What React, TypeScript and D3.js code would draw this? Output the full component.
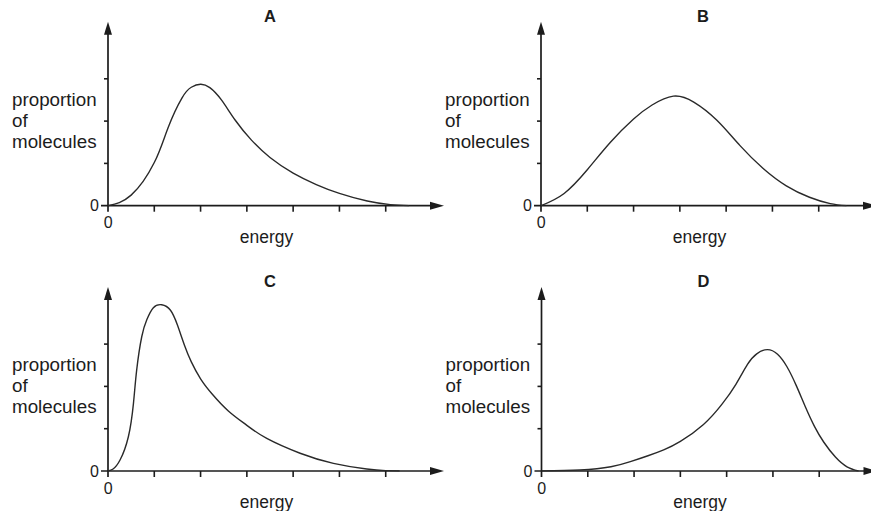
import React from "react";
import * as d3 from "d3";

// Energy (x) and proportion (y) samples for each distribution, in axis units
const energyA = [0, 0.5, 1.0, 1.3, 1.6, 1.8, 2.0, 2.2, 2.45, 2.75, 3.1, 3.5, 4.0, 4.5, 5.0, 5.6, 6.1, 6.5];
const proportionA = [0, 0.25, 1.02, 1.85, 2.55, 2.8, 2.87, 2.79, 2.5, 2.02, 1.55, 1.14, 0.77, 0.5, 0.29, 0.11, 0.025, 0];

const energyB = [0, 0.5, 1.0, 1.5, 2.0, 2.4, 2.86, 3.3, 3.8, 4.3, 4.8, 5.3, 5.8, 6.25, 6.6];
const proportionB = [0, 0.29, 0.85, 1.5, 2.05, 2.38, 2.59, 2.45, 2.02, 1.42, 0.88, 0.47, 0.2, 0.05, 0];

const energyC = [0, 0.11, 0.26, 0.44, 0.55, 0.62, 0.73, 0.84, 0.98, 1.16, 1.35, 1.5, 1.65, 1.8, 2.0, 2.25, 2.6, 3.0, 3.43, 4.15, 4.87, 5.59, 6.0, 6.3];
const proportionC = [0, 0.047, 0.26, 0.81, 1.6, 2.39, 3.18, 3.58, 3.86, 3.93, 3.8, 3.45, 2.98, 2.58, 2.18, 1.82, 1.42, 1.08, 0.77, 0.42, 0.18, 0.047, 0.01, 0];

const energyD = [0, 0.83, 1.5, 1.92, 2.3, 2.64, 3.0, 3.5, 3.9, 4.2, 4.45, 4.65, 4.88, 5.1, 5.3, 5.5, 5.7, 5.9, 6.1, 6.35, 6.6, 6.85];
const proportionD = [0, 0.024, 0.1, 0.22, 0.36, 0.5, 0.7, 1.1, 1.58, 2.05, 2.52, 2.77, 2.87, 2.76, 2.47, 2.03, 1.52, 1.05, 0.68, 0.33, 0.1, 0];

const panelTitles = ["A", "B", "C", "D"];
const xTickValues = [1, 2, 3, 4, 5, 6];
const yTickValues = [1, 2, 3];
const yLabelLines = ["proportion", "of", "molecules"];
const xLabel = "energy";
const zeroLabel = "0";

const series = [
  { title: panelTitles[0], energy: energyA, proportion: proportionA },
  { title: panelTitles[1], energy: energyB, proportion: proportionB },
  { title: panelTitles[2], energy: energyC, proportion: proportionC },
  { title: panelTitles[3], energy: energyD, proportion: proportionD },
];

const W = 871;
const H = 511;
const FONT = "'Liberation Sans', Arial, Helvetica, sans-serif";
const INK = "#1c1c1c";

// origin of each panel's axes
const origins = [
  [108, 205.7],
  [541, 205.7],
  [108, 471],
  [541.5, 471],
];

const x = d3.scaleLinear().domain([0, 7]).range([0, 324]);
const y = d3.scaleLinear().domain([0, 4]).range([0, -169.2]);

const X_END = 336;
const Y_END = -184;

function Panel({ s, origin }) {
  const pts = s.energy.map((e, i) => [e, s.proportion[i]]);
  const line = d3
    .line()
    .x((d) => x(d[0]))
    .y((d) => Math.min(0, y(d[1])))
    .curve(d3.curveNatural);
  return (
    <g transform={`translate(${origin[0]},${origin[1]})`}>
      {/* axes */}
      <line x1={-7} y1={0} x2={X_END - 10} y2={0} stroke={INK} strokeWidth={1.7} />
      <line x1={0} y1={6} x2={0} y2={Y_END + 10} stroke={INK} strokeWidth={1.7} />
      <path d={`M${X_END},0 L${X_END - 14},-4 L${X_END - 14},4 Z`} fill={INK} />
      <path d={`M0,${Y_END} L-4,${Y_END + 13} L4,${Y_END + 13} Z`} fill={INK} />
      {xTickValues.map((t) => (
        <line key={"x" + t} x1={x(t)} x2={x(t)} y1={0} y2={6} stroke={INK} strokeWidth={1.6} />
      ))}
      {yTickValues.map((t) => (
        <line key={"y" + t} x1={-4} x2={0} y1={y(t)} y2={y(t)} stroke={INK} strokeWidth={1.6} />
      ))}
      {/* curve, kept on or above the energy axis */}
      <clipPath id={`clip-${s.title}`}>
        <rect x={0} y={-200} width={X_END} height={200.8} />
      </clipPath>
      <path d={line(pts)} fill="none" stroke="#2a2a2a" strokeWidth={1.4} clipPath={`url(#clip-${s.title})`} />
      {/* labels */}
      <text x={-9} y={5.6} fontSize={16} textAnchor="end" fill={INK} fontFamily={FONT}>
        {zeroLabel}
      </text>
      <text x={0.3} y={22.6} fontSize={16} textAnchor="middle" fill={INK} fontFamily={FONT}>
        {zeroLabel}
      </text>
      <text x={158.5} y={37} fontSize={17.5} textAnchor="middle" fill={INK} fontFamily={FONT}>
        {xLabel}
      </text>
      {yLabelLines.map((l, i) => (
        <text key={l} x={-96} y={-100.2 + i * 21} fontSize={18.8} fill={INK} fontFamily={FONT}>
          {l}
        </text>
      ))}
      <text x={162} y={-184} fontSize={16.5} fontWeight="bold" textAnchor="middle" fill={INK} fontFamily={FONT}>
        {s.title}
      </text>
    </g>
  );
}

export default function App() {
  return (
    <svg
      width={W}
      height={H}
      viewBox={`0 0 ${W} ${H}`}
      style={{ position: "absolute", left: 0, top: 0, background: "#fff" }}
    >
      <rect width={W} height={H} fill="#fff" />
      {series.map((s, i) => (
        <Panel key={s.title} s={s} origin={origins[i]} />
      ))}
    </svg>
  );
}
